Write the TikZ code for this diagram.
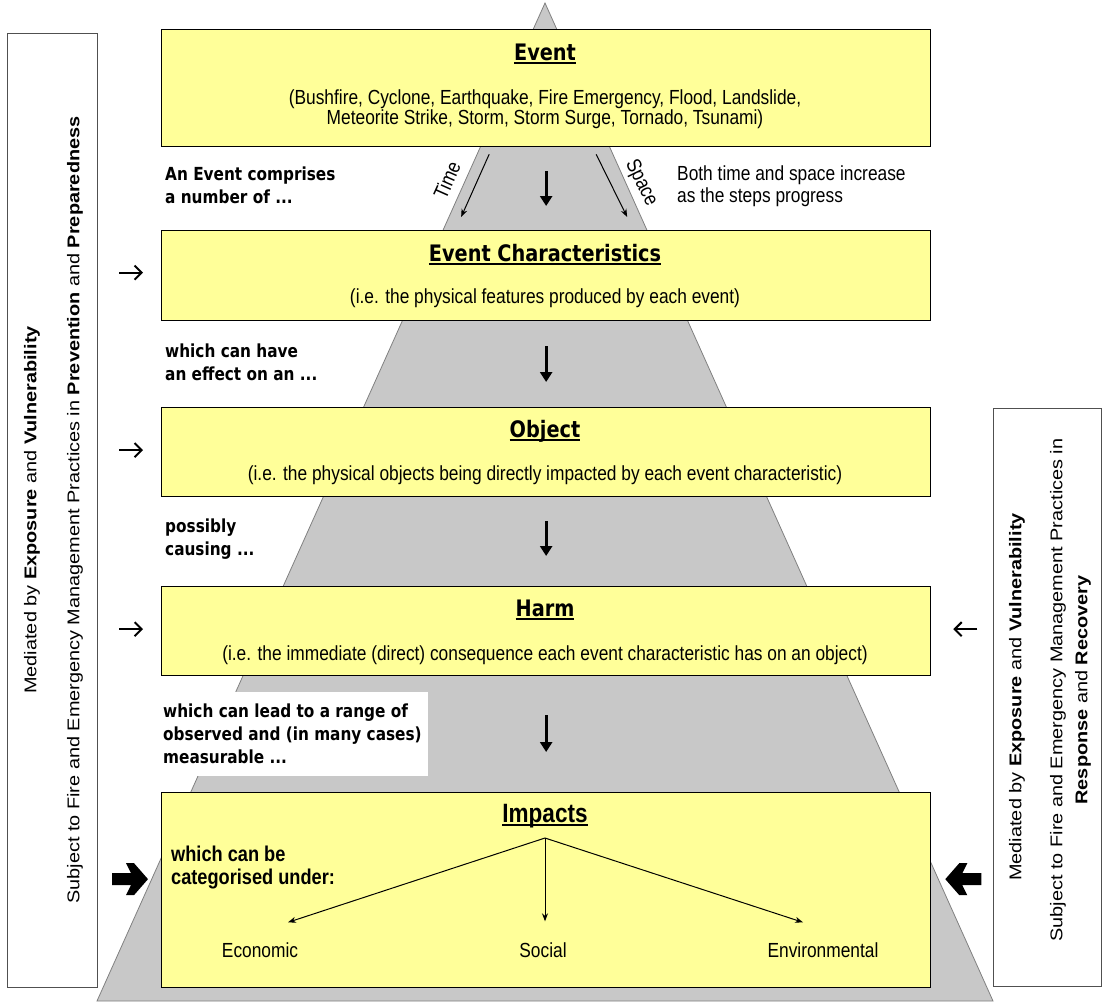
\documentclass[tikz,border=0pt]{standalone}
\usepackage{fontspec}
\setmainfont{Liberation Sans}
\newfontfamily\hf[FakeStretch=0.85]{Liberation Sans}
\newfontfamily\tf[FakeStretch=0.85]{DejaVu Sans}
\newfontfamily\vf[FakeStretch=1.17]{Liberation Sans}
\usetikzlibrary{arrows.meta,calc}
\definecolor{boxyellow}{RGB}{255,255,153}
\definecolor{trigray}{RGB}{200,200,200}
\definecolor{edgegray}{RGB}{80,80,80}
\newcommand{\ulin}[1]{\setbox0\hbox{#1}\rlap{\vrule height -2.2pt depth 4.2pt width \wd0}\box0}
\tikzset{
  ybox/.style={draw=black, line width=1.3pt, fill=boxyellow, inner sep=0pt, anchor=north west},
  sidebox/.style={draw=edgegray, line width=1.2pt, fill=white, inner sep=0pt, anchor=north west},
  ttl/.style={inner sep=0pt, font=\tf\bfseries\fontsize{22.7}{26}\selectfont, anchor=base},
  body/.style={inner sep=0pt, font=\hf\fontsize{20.4}{20}\selectfont, align=center},
  lbold/.style={inner sep=0pt, font=\tf\bfseries\fontsize{18}{23}\selectfont, align=left, anchor=west},
  ltext/.style={inner sep=0pt, font=\hf\fontsize{20.4}{22}\selectfont, align=left, anchor=west},
  vtxt/.style={inner sep=0pt, font=\vf\fontsize{17}{20}\selectfont, rotate=90},
  downarr/.style={line width=3pt, -{Triangle[length=10pt,width=12pt]}},
  thinarr/.style={line width=1pt, -{Stealth[length=8pt,width=6pt]}},
  sidearr/.style={line width=2pt, -{Straight Barb[length=7pt,width=14pt]}},
  blockarr/.style={fill=black},
  tri/.style={fill=trigray, draw=gray, line width=0.8pt}
}
\begin{document}
\begin{tikzpicture}[x=1pt,y=-1pt]
\path[use as bounding box] (0,0) rectangle (1102,1005);

% side boxes
\node[sidebox, minimum width=90pt, minimum height=954pt] (lbox) at (7,33) {};
\node[sidebox, minimum width=108pt, minimum height=578pt] (rbox) at (993,408) {};

% triangle
\coordinate (apex) at (545,3);
\coordinate (bl) at (97,1001);
\coordinate (br) at (993,1001);
\path[tri] (apex) -- (br) -- (bl) -- cycle;

% white patch behind text
\node[fill=white, inner sep=0pt, anchor=north west, minimum width=270pt, minimum height=84pt] (wpatch) at (158,692) {};

% yellow boxes
\node[ybox, minimum width=769pt, minimum height=117pt] (event) at (161,29) {};
\node[ybox, minimum width=769pt, minimum height=90pt] (evchar) at (161,230) {};
\node[ybox, minimum width=769pt, minimum height=89pt] (object) at (161,407) {};
\node[ybox, minimum width=769pt, minimum height=89pt] (harm) at (161,586) {};
\node[ybox, minimum width=769pt, minimum height=195pt] (impacts) at (161,792) {};

% titles
\node[ttl] (tevent) at (545,60) {\ulin{Event}};
\node[ttl] (tevchar) at (545,261) {\ulin{Event Characteristics}};
\node[ttl] (tobject) at (545,437) {\ulin{Object}};
\node[ttl] (tharm) at (545,616) {\ulin{Harm}};
\node[ttl, font=\hf\bfseries\fontsize{26.5}{30}\selectfont] (timpacts) at (545,822) {\ulin{Impacts}};

% body texts
\node[body] (bevent) at (545,109) {(Bushfire, Cyclone, Earthquake, Fire Emergency, Flood, Landslide,\\Meteorite Strike, Storm, Storm Surge, Tornado, Tsunami)};
\node[body] (bevchar) at (545,298) {(i.e. the physical features produced by each event)};
\node[body] (bobject) at (545,475) {(i.e. the physical objects being directly impacted by each event characteristic)};
\node[body] (bharm) at (545,655) {(i.e. the immediate (direct) consequence each event characteristic has on an object)};

% left connecting texts
\node[lbold] (l1) at (165,185.5) {An Event comprises\\a number of ...};
\node[lbold] (l2) at (165,362.5) {which can have\\an effect on an ...};
\node[lbold] (l3) at (165,539.5) {possibly\\causing ...};
\node[lbold] (l4) at (163,734) {which can lead to a range of\\observed and (in many cases)\\measurable ...};
\node[ltext] (rnote) at (677,186) {Both time and space increase\\as the steps progress};

% central down arrows
\draw[downarr] ($(event.south)+(0,24)$) -- ($(evchar.north)+(0,-24)$);
\draw[downarr] ($(evchar.south)+(0,25)$) -- ($(object.north)+(0,-25)$);
\draw[downarr] ($(object.south)+(0,24)$) -- ($(harm.north)+(0,-30)$);
\draw[downarr] ($(harm.south)+(0,39)$) -- ($(impacts.north)+(0,-40)$);

% time and space arrows
\draw[thinarr] ($(event.south)+(-57,7)$) -- ($(evchar.north)+(-85,-13)$);
\draw[thinarr] ($(event.south)+(50,7)$) -- ($(evchar.north)+(81,-13)$);
\node[inner sep=0pt, rotate=66, font=\hf\fontsize{20.4}{22}\selectfont] (ttime) at (447,180) {Time};
\node[inner sep=0pt, rotate=-64, font=\hf\fontsize{20.4}{22}\selectfont] (tspace) at (641,183) {Space};

% side arrows
\draw[sidearr] ($(evchar.west)+(-42,-3)$) -- ($(evchar.west)+(-18,-3)$);
\draw[sidearr] ($(object.west)+(-42,-2)$) -- ($(object.west)+(-18,-2)$);
\draw[sidearr] ($(harm.west)+(-42,-2)$) -- ($(harm.west)+(-18,-2)$);
\draw[sidearr] ($(harm.east)+(46,-2)$) -- ($(harm.east)+(22,-2)$);

% block arrows
\coordinate (lba) at ($(impacts.west)+(-31,-11)$);
\coordinate (rba) at ($(impacts.east)+(32,-11)$);
\fill[blockarr, shift={(lba)}] (-18,-6) -- (1,-6) -- (-4,-16) -- (4,-16) -- (18,0) -- (4,16) -- (-4,16) -- (1,6) -- (-18,6) -- cycle;
\fill[blockarr, shift={(rba)}] (18,-6) -- (-1,-6) -- (4,-16) -- (-4,-16) -- (-18,0) -- (-4,16) -- (4,16) -- (-1,6) -- (18,6) -- cycle;

% side box texts
\node[vtxt] (lt1) at (32,510) {Mediated by \textbf{Exposure} and \textbf{Vulnerability}};
\node[vtxt] (lt2) at (75,510) {Subject to Fire and Emergency Management Practices in \textbf{Prevention} and \textbf{Preparedness}};
\node[vtxt] (rt1) at (1017,697) {Mediated by \textbf{Exposure} and \textbf{Vulnerability}};
\node[vtxt] (rt2) at (1058,690) {Subject to Fire and Emergency Management Practices in};
\node[vtxt] (rt3) at (1083,690) {\textbf{Response} and \textbf{Recovery}};

% impacts content
\node[inner sep=0pt, font=\hf\bfseries\fontsize{21.4}{23}\selectfont, align=left, anchor=west] (cat) at (171,867.5) {which can be\\categorised under:};
\node[inner sep=0pt, font=\hf\fontsize{20.4}{22}\selectfont] (econ) at (260,950) {Economic};
\node[inner sep=0pt, font=\hf\fontsize{20.4}{22}\selectfont] (soc) at (543,950) {Social};
\node[inner sep=0pt, font=\hf\fontsize{20.4}{22}\selectfont] (env) at (823,950) {Environmental};
\coordinate (isrc) at (545,838);
\draw[thinarr] (isrc) -- ($(econ.north)+(28,-20)$);
\draw[thinarr] (isrc) -- ($(soc.north)+(2,-21)$);
\draw[thinarr] (isrc) -- ($(env.north)+(-20,-20)$);
\end{tikzpicture}
\end{document}
